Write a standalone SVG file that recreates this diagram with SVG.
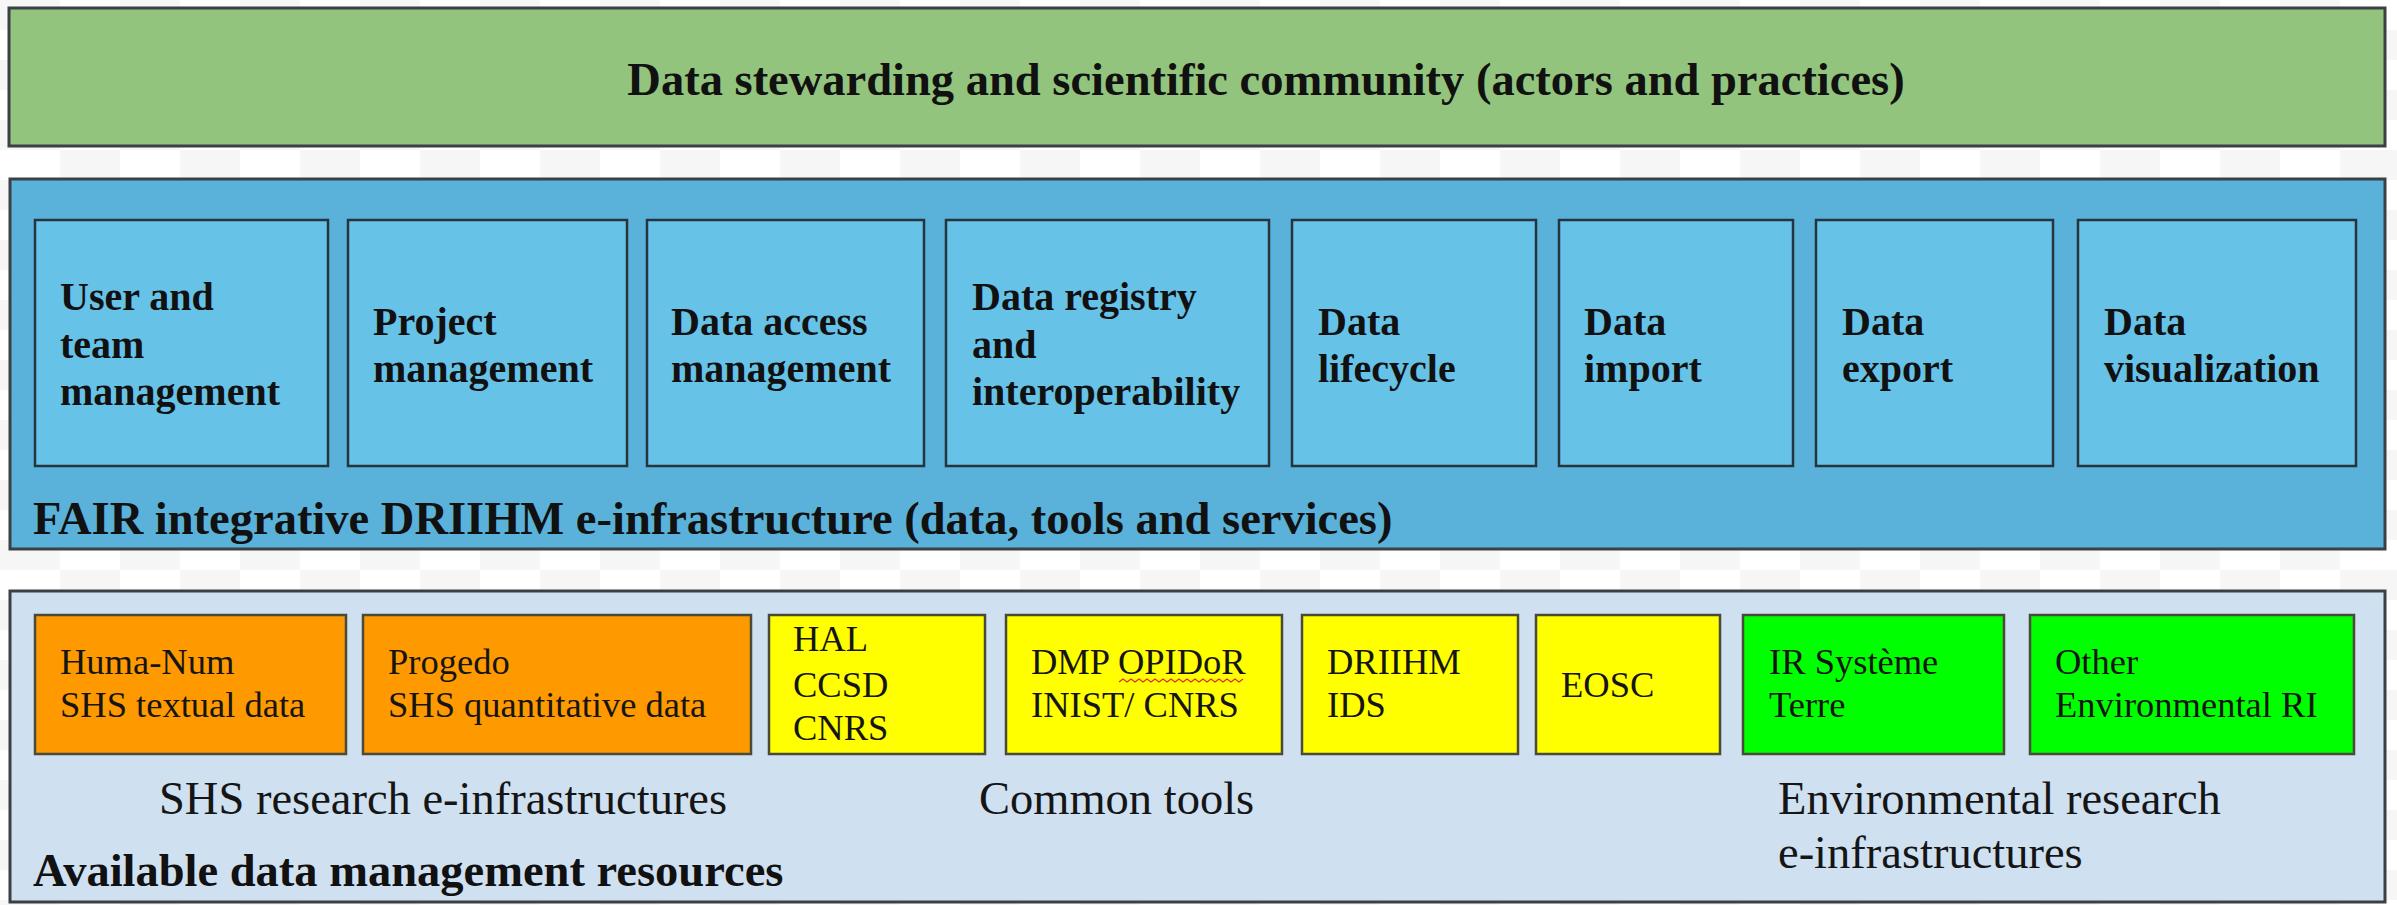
<svg xmlns="http://www.w3.org/2000/svg" width="2397" height="905" viewBox="0 0 2397 905">
<defs>
<pattern id="chk" width="120" height="60" patternUnits="userSpaceOnUse">
<rect width="120" height="60" fill="#ffffff"/>
<rect x="0" y="0" width="60" height="30" fill="#f6f6f6"/>
<rect x="60" y="30" width="60" height="30" fill="#f6f6f6"/>
</pattern>
<style>
.band{stroke:#3a4044;stroke-width:3}
.sub{fill:#67c2e8;stroke:#25343f;stroke-width:2.5}
.res{stroke:#4a4a3a;stroke-width:2.5}
.bt{font-family:"Liberation Serif","Times New Roman",serif;font-weight:bold;fill:#111}
.h{font-size:46.5px}
.s{font-size:40px}
.rt{font-family:"Liberation Serif","Times New Roman",serif;fill:#151515}
.r{font-size:36.5px}
.g{font-size:46.5px}
</style>
</defs>
<rect width="2397" height="905" fill="url(#chk)"/>

<g id="stewarding">
<rect class="band" x="9" y="8" width="2376" height="138" fill="#93c47d"/>
<text class="bt h" x="1266" y="95" text-anchor="middle">Data stewarding and scientific community (actors and practices)</text>
</g>

<g id="fair-infrastructure">
<rect class="band" x="10" y="179" width="2375" height="370" fill="#5ab2da"/>
<text class="bt h" x="33" y="534">FAIR integrative DRIIHM e-infrastructure (data, tools and services)</text>
</g>

<g id="user-team">
<rect class="sub" x="35" y="220" width="293" height="246"/>
<text class="bt s" x="60" y="310">User and</text>
<text class="bt s" x="60" y="358">team</text>
<text class="bt s" x="60" y="405">management</text>
</g>
<g id="project">
<rect class="sub" x="348" y="220" width="279" height="246"/>
<text class="bt s" x="373" y="335">Project</text>
<text class="bt s" x="373" y="382">management</text>
</g>
<g id="data-access">
<rect class="sub" x="647" y="220" width="277" height="246"/>
<text class="bt s" x="671" y="335">Data access</text>
<text class="bt s" x="671" y="382">management</text>
</g>
<g id="data-registry">
<rect class="sub" x="946" y="220" width="323" height="246"/>
<text class="bt s" x="972" y="310">Data registry</text>
<text class="bt s" x="972" y="358">and</text>
<text class="bt s" x="972" y="405">interoperability</text>
</g>
<g id="data-lifecycle">
<rect class="sub" x="1292" y="220" width="244" height="246"/>
<text class="bt s" x="1318" y="335">Data</text>
<text class="bt s" x="1318" y="382">lifecycle</text>
</g>
<g id="data-import">
<rect class="sub" x="1559" y="220" width="234" height="246"/>
<text class="bt s" x="1584" y="335">Data</text>
<text class="bt s" x="1584" y="382">import</text>
</g>
<g id="data-export">
<rect class="sub" x="1816" y="220" width="237" height="246"/>
<text class="bt s" x="1842" y="335">Data</text>
<text class="bt s" x="1842" y="382">export</text>
</g>
<g id="data-visualization">
<rect class="sub" x="2078" y="220" width="278" height="246"/>
<text class="bt s" x="2104" y="335">Data</text>
<text class="bt s" x="2104" y="382">visualization</text>
</g>

<g id="resources">
<rect class="band" x="10" y="591" width="2375" height="311" fill="#cfe0f1"/>
<text class="rt g" x="159" y="814">SHS research e-infrastructures</text>
<text class="rt g" x="979" y="814">Common tools</text>
<text class="rt g" x="1778" y="814">Environmental research</text>
<text class="rt g" x="1778" y="868">e-infrastructures</text>
<text class="bt h" x="33" y="886">Available data management resources</text>
</g>

<g id="huma-num">
<rect class="res" x="35" y="615" width="311" height="139" fill="#ff9900"/>
<text class="rt r" x="60" y="674">Huma-Num</text>
<text class="rt r" x="60" y="717">SHS textual data</text>
</g>
<g id="progedo">
<rect class="res" x="363" y="615" width="388" height="139" fill="#ff9900"/>
<text class="rt r" x="388" y="674">Progedo</text>
<text class="rt r" x="388" y="717">SHS quantitative data</text>
</g>
<g id="hal">
<rect class="res" x="769" y="615" width="216" height="139" fill="#ffff00"/>
<text class="rt r" x="793" y="651">HAL</text>
<text class="rt r" x="793" y="697">CCSD</text>
<text class="rt r" x="793" y="740">CNRS</text>
</g>
<g id="dmp-opidor">
<rect class="res" x="1006" y="615" width="276" height="139" fill="#ffff00"/>
<text class="rt r" x="1031" y="674">DMP OPIDoR</text>
<text class="rt r" x="1031" y="717">INIST/ CNRS</text>
<path d="M1119 682 l4 -3 l4 3 l4 -3 l4 3 l4 -3 l4 3 l4 -3 l4 3 l4 -3 l4 3 l4 -3 l4 3 l4 -3 l4 3 l4 -3 l4 3 l4 -3 l4 3 l4 -3 l4 3 l4 -3 l4 3 l4 -3 l4 3 l4 -3 l4 3 l4 -3 l4 3 l4 -3 l4 3 l4 -3" fill="none" stroke="#e0302a" stroke-width="1.3"/>
</g>
<g id="driihm-ids">
<rect class="res" x="1302" y="615" width="216" height="139" fill="#ffff00"/>
<text class="rt r" x="1327" y="674">DRIIHM</text>
<text class="rt r" x="1327" y="717">IDS</text>
</g>
<g id="eosc">
<rect class="res" x="1536" y="615" width="184" height="139" fill="#ffff00"/>
<text class="rt r" x="1561" y="697">EOSC</text>
</g>
<g id="ir-systeme-terre">
<rect class="res" x="1743" y="615" width="261" height="139" fill="#00ff00"/>
<text class="rt r" x="1769" y="674">IR Système</text>
<text class="rt r" x="1769" y="717">Terre</text>
</g>
<g id="other-env-ri">
<rect class="res" x="2030" y="615" width="324" height="139" fill="#00ff00"/>
<text class="rt r" x="2055" y="674">Other</text>
<text class="rt r" x="2055" y="717">Environmental RI</text>
</g>

<g id="connectors"></g>
</svg>
